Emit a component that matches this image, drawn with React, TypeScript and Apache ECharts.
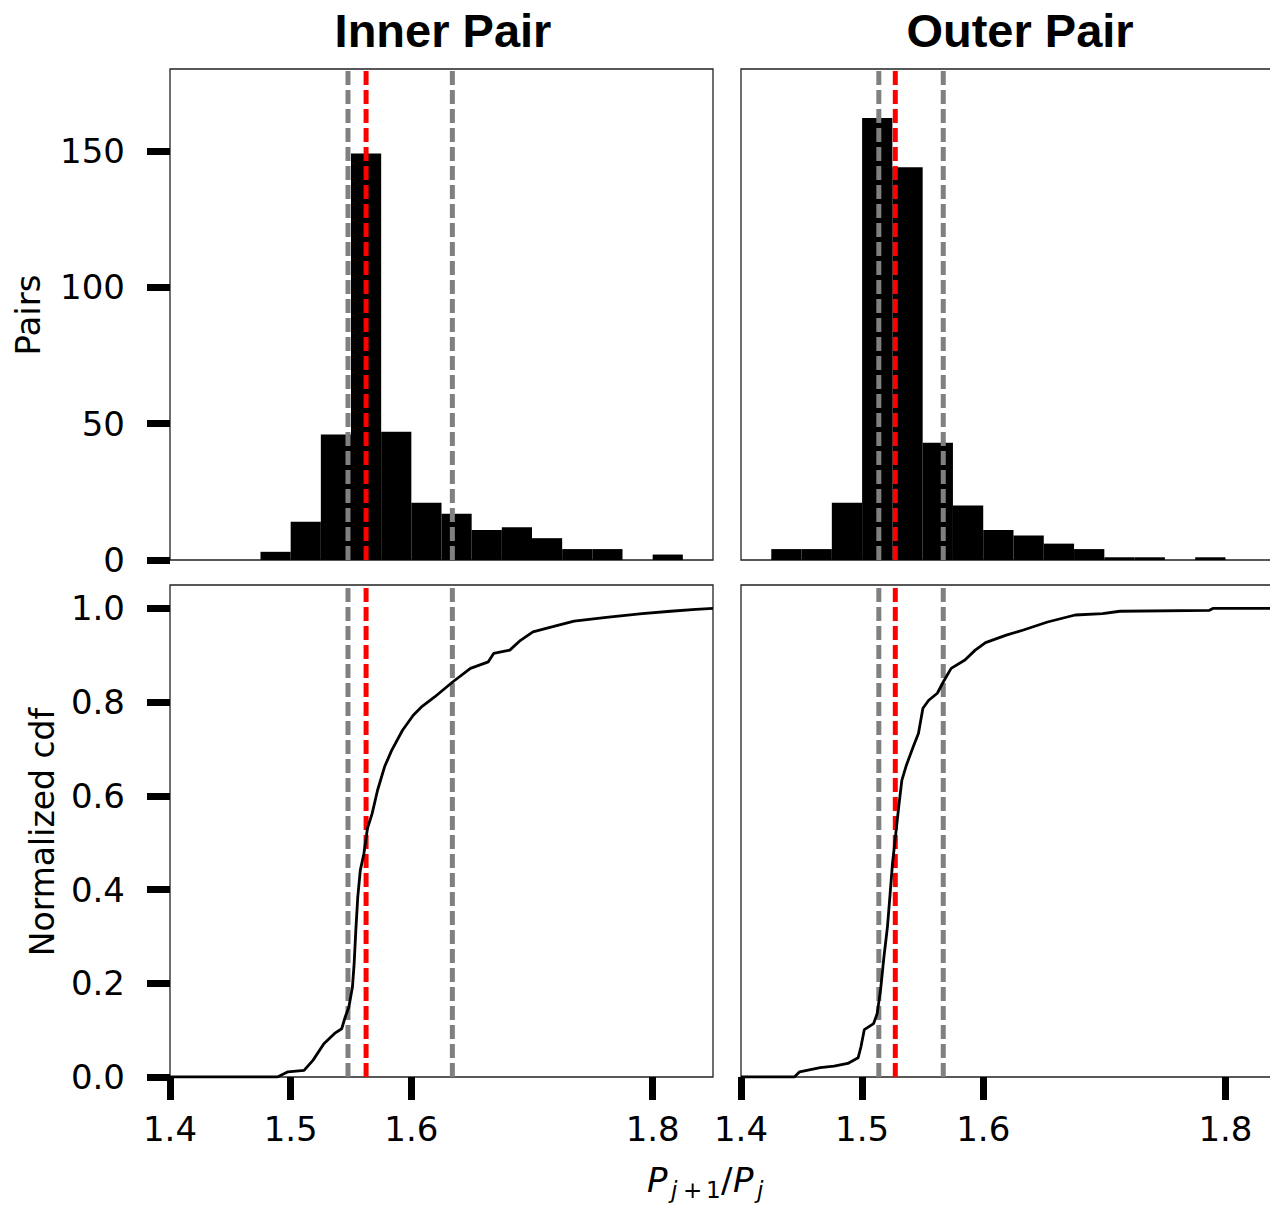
import React, { useEffect, useRef } from "react";
import * as echarts from "echarts";

// ---------- data ----------
const X_TICKS = [1.4, 1.5, 1.6, 1.8];
const HIST_Y_TICKS = [0, 50, 100, 150];
const CDF_Y_TICKS = [0, 0.2, 0.4, 0.6, 0.8, 1.0];
const HIST_Y_MAX = 180;
const CDF_Y_MAX = 1.05;
const BIN_WIDTH = 0.025;

const innerBinStarts = [1.475, 1.5, 1.525, 1.55, 1.575, 1.6, 1.625, 1.65, 1.675, 1.7, 1.725, 1.75, 1.775, 1.8];
const innerCounts = [3, 14, 46, 149, 47, 21, 17, 11, 12, 8, 4, 4, 0, 2];

const outerBinStarts = [1.425, 1.45, 1.475, 1.5, 1.525, 1.55, 1.575, 1.6, 1.625, 1.65, 1.675, 1.7, 1.725, 1.75, 1.775];
const outerCounts = [4, 4, 21, 162, 144, 43, 20, 11, 9, 6, 4, 1, 1, 0, 1];

const innerLines = [1.5475, 1.5625, 1.634]; // lower, median, upper
const outerLines = [1.5138, 1.5274, 1.567];

const innerCdfX = [1.4, 1.489, 1.4978, 1.5111, 1.5186, 1.5275, 1.5364, 1.5423, 1.5452, 1.5482, 1.5512, 1.5526, 1.554, 1.5556, 1.5577, 1.5607, 1.5636, 1.5675, 1.572, 1.5778, 1.5837, 1.5927, 1.6016, 1.609, 1.6193, 1.6342, 1.649, 1.6638, 1.6682, 1.6816, 1.6905, 1.7008, 1.7172, 1.7349, 1.7616, 1.7912, 1.8149, 1.8357, 1.85];
const innerCdfY = [0, 0, 0.011, 0.014, 0.036, 0.071, 0.093, 0.103, 0.128, 0.149, 0.192, 0.242, 0.313, 0.384, 0.441, 0.477, 0.53, 0.562, 0.612, 0.662, 0.697, 0.74, 0.772, 0.791, 0.811, 0.843, 0.872, 0.886, 0.904, 0.911, 0.932, 0.95, 0.961, 0.973, 0.981, 0.989, 0.994, 0.998, 1.0];

const outerCdfX = [1.4, 1.4441, 1.4484, 1.4654, 1.4768, 1.4882, 1.4967, 1.499, 1.5018, 1.5095, 1.5124, 1.5152, 1.518, 1.5209, 1.5229, 1.5251, 1.5274, 1.5302, 1.5328, 1.5365, 1.5422, 1.5465, 1.5502, 1.555, 1.5621, 1.567, 1.5735, 1.5849, 1.5934, 1.6019, 1.619, 1.6332, 1.6531, 1.6759, 1.6986, 1.7128, 1.7868, 1.7896, 1.85];
const outerCdfY = [0, 0, 0.011, 0.02, 0.023, 0.029, 0.041, 0.064, 0.101, 0.114, 0.135, 0.185, 0.256, 0.32, 0.384, 0.456, 0.51, 0.576, 0.633, 0.665, 0.705, 0.733, 0.787, 0.804, 0.819, 0.843, 0.872, 0.89, 0.911, 0.927, 0.943, 0.954, 0.971, 0.986, 0.989, 0.994, 0.996, 1.0, 1.0];

// ---------- styling ----------
const TICK_FONT = "DejaVu Sans";
const GRAY = "#808080";
const RED = "#ff0000";
const LINE_COLORS = [GRAY, RED, GRAY];

function histData(starts: number[], counts: number[]) {
  return starts.map((s, i) => [s, s + BIN_WIDTH, counts[i]]);
}
function pairs(xs: number[], ys: number[]) {
  return xs.map((x, i) => [x, ys[i]]);
}

const renderBin = (_params: any, api: any) => {
  const x0 = api.value(0);
  const x1 = api.value(1);
  const c = api.value(2);
  const p0 = api.coord([x0, c]);
  const p1 = api.coord([x1, 0]);
  return {
    type: "rect",
    shape: { x: p0[0], y: p0[1], width: p1[0] - p0[0], height: p1[1] - p0[1] },
    style: { fill: "#000" },
  };
};

// vertical dashed reference lines as 2-point line series spanning the y-axis range
function vlines(gridIdx: number, vals: number[], yMax: number) {
  return vals.map((v, i) => ({
    type: "line",
    xAxisIndex: gridIdx,
    yAxisIndex: gridIdx,
    data: [
      [v, 0],
      [v, yMax],
    ],
    symbol: "none",
    silent: true,
    z: 5,
    lineStyle: { color: LINE_COLORS[i], width: 5, type: [14, 5], cap: "butt" },
  }));
}

const frame = {
  show: true,
  borderColor: "#222",
  borderWidth: 1.3,
  backgroundColor: "transparent",
  outerBoundsMode: "none",
};

const tickStyle = { show: true, length: 23, lineStyle: { color: "#000", width: 7 } };

function xAxisCfg(gridIndex: number, labelled: boolean) {
  return {
    type: "value",
    gridIndex,
    min: 1.4,
    max: 1.85,
    axisLine: { show: false, onZero: false },
    splitLine: { show: false },
    axisTick: labelled ? { ...tickStyle, customValues: X_TICKS } : { show: false },
    axisLabel: labelled
      ? {
          show: true,
          customValues: X_TICKS,
          formatter: (v: number) => v.toFixed(1),
          fontSize: 34,
          fontFamily: TICK_FONT,
          color: "#000",
          margin: 35,
        }
      : { show: false },
  };
}

function yAxisCfg(gridIndex: number, max: number, ticks: number[] | null, fmt: (v: number) => string) {
  return {
    type: "value",
    gridIndex,
    min: 0,
    max,
    axisLine: { show: false, onZero: false },
    splitLine: { show: false },
    axisTick: ticks ? { ...tickStyle, customValues: ticks } : { show: false },
    axisLabel: ticks
      ? {
          show: true,
          customValues: ticks,
          formatter: fmt,
          fontSize: 34,
          fontFamily: TICK_FONT,
          color: "#000",
          margin: 45,
        }
      : { show: false },
  };
}

const option: any = {
  animation: false,
  backgroundColor: "#fff",
  grid: [
    { ...frame, left: 170, top: 69, width: 543, height: 491 },
    { ...frame, left: 741, top: 69, width: 545, height: 491 },
    { ...frame, left: 170, top: 585, width: 543, height: 492 },
    { ...frame, left: 741, top: 585, width: 545, height: 492 },
  ],
  xAxis: [xAxisCfg(0, false), xAxisCfg(1, false), xAxisCfg(2, true), xAxisCfg(3, true)],
  yAxis: [
    yAxisCfg(0, HIST_Y_MAX, HIST_Y_TICKS, (v) => String(Math.round(v))),
    yAxisCfg(1, HIST_Y_MAX, null, (v) => String(v)),
    yAxisCfg(2, CDF_Y_MAX, CDF_Y_TICKS, (v) => v.toFixed(1)),
    yAxisCfg(3, CDF_Y_MAX, null, (v) => String(v)),
  ],
  series: [
    {
      type: "custom",
      xAxisIndex: 0,
      yAxisIndex: 0,
      renderItem: renderBin,
      encode: { x: [0, 1], y: 2 },
      data: histData(innerBinStarts, innerCounts),
      silent: true,
      z: 2,
    },
    {
      type: "custom",
      xAxisIndex: 1,
      yAxisIndex: 1,
      renderItem: renderBin,
      encode: { x: [0, 1], y: 2 },
      data: histData(outerBinStarts, outerCounts),
      silent: true,
      z: 2,
    },
    {
      type: "line",
      xAxisIndex: 2,
      yAxisIndex: 2,
      data: pairs(innerCdfX, innerCdfY),
      symbol: "none",
      lineStyle: { color: "#000", width: 2.8 },
      silent: true,
      z: 6,
    },
    {
      type: "line",
      xAxisIndex: 3,
      yAxisIndex: 3,
      data: pairs(outerCdfX, outerCdfY),
      symbol: "none",
      lineStyle: { color: "#000", width: 2.8 },
      silent: true,
      z: 6,
    },
    ...vlines(0, innerLines, HIST_Y_MAX),
    ...vlines(1, outerLines, HIST_Y_MAX),
    ...vlines(2, innerLines, CDF_Y_MAX),
    ...vlines(3, outerLines, CDF_Y_MAX),
  ],
  graphic: [
    {
      type: "text",
      x: 443,
      y: 30,
      style: {
        text: "Inner Pair",
        font: "bold 47px 'Liberation Sans', Arial, sans-serif",
        fill: "#000",
        align: "center",
        verticalAlign: "middle",
      },
    },
    {
      type: "text",
      x: 1020,
      y: 30,
      style: {
        text: "Outer Pair",
        font: "bold 47px 'Liberation Sans', Arial, sans-serif",
        fill: "#000",
        align: "center",
        verticalAlign: "middle",
      },
    },
    {
      type: "text",
      x: 28,
      y: 315,
      rotation: Math.PI / 2,
      style: {
        text: "Pairs",
        font: "34px 'DejaVu Sans'",
        fill: "#000",
        align: "center",
        verticalAlign: "middle",
      },
    },
    {
      type: "text",
      x: 42,
      y: 832,
      rotation: Math.PI / 2,
      style: {
        text: "Normalized cdf",
        font: "33px 'DejaVu Sans'",
        fill: "#000",
        align: "center",
        verticalAlign: "middle",
      },
    },
    // x-axis label: P_{j+1}/P_j
    { type: "text", x: 647, y: 1180, style: { text: "P", font: "italic 34px 'DejaVu Sans'", fill: "#000", align: "left", verticalAlign: "middle" } },
    { type: "text", x: 671, y: 1190, style: { text: "j", font: "italic 23px 'DejaVu Sans'", fill: "#000", align: "left", verticalAlign: "middle" } },
    { type: "text", x: 683, y: 1190, style: { text: "+", font: "23px 'DejaVu Sans'", fill: "#000", align: "left", verticalAlign: "middle" } },
    { type: "text", x: 706, y: 1190, style: { text: "1", font: "23px 'DejaVu Sans'", fill: "#000", align: "left", verticalAlign: "middle" } },
    { type: "text", x: 721, y: 1180, style: { text: "/", font: "34px 'DejaVu Sans'", fill: "#000", align: "left", verticalAlign: "middle" } },
    { type: "text", x: 733, y: 1180, style: { text: "P", font: "italic 34px 'DejaVu Sans'", fill: "#000", align: "left", verticalAlign: "middle" } },
    { type: "text", x: 757, y: 1190, style: { text: "j", font: "italic 23px 'DejaVu Sans'", fill: "#000", align: "left", verticalAlign: "middle" } },
  ],
};

export default function App() {
  const ref = useRef<HTMLDivElement>(null);
  useEffect(() => {
    document.body.style.margin = "0";
    const chart = echarts.init(ref.current!, null, { renderer: "svg" });
    chart.setOption(option);
    return () => chart.dispose();
  }, []);
  return <div ref={ref} style={{ width: 1270, height: 1206 }} />;
}
